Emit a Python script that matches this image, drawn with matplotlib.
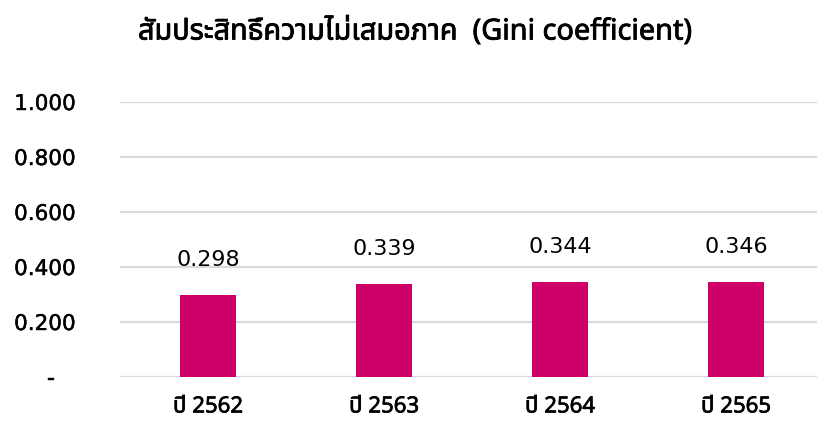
import matplotlib
matplotlib.use("Agg")
import matplotlib.pyplot as plt
from matplotlib import font_manager
from matplotlib.ft2font import FT2Font
import matplotlib.patheffects as pe

# ---- data ----
categories = ["ปี 2562", "ปี 2563", "ปี 2564", "ปี 2565"]
values = [0.298, 0.339, 0.344, 0.346]
value_labels = ["0.298", "0.339", "0.344", "0.346"]
y_ticks = [0.0, 0.2, 0.4, 0.6, 0.8, 1.0]
y_tick_labels = ["-   ", "0.200", "0.400", "0.600", "0.800", "1.000"]
title = "สัมประสิทธิ์ความไม่เสมอภาค  (Gini coefficient)"

# ---- find a font with Thai glyphs ----
thai_family = None
cands = []
for f in font_manager.fontManager.ttflist:
    try:
        cm = FT2Font(f.fname).get_charmap()
        if 0x0E2A in cm and 0x0E34 in cm:
            cands.append(f.name)
    except Exception:
        pass
pref = ["Noto Sans Thai", "Noto Sans Thai UI", "Tlwg Typist", "Loma", "Garuda", "Sarabun"]
for p in pref:
    if p in cands:
        thai_family = p
        break
if thai_family is None and cands:
    thai_family = sorted(set(cands))[0]
fam = [thai_family, "DejaVu Sans"] if thai_family else ["DejaVu Sans"]

W, H = 817, 439
fig = plt.figure(figsize=(W / 100, H / 100), dpi=100)
ax_left, ax_right = 120, 824
ax_bottom, ax_top = 378, 103
ax = fig.add_axes([ax_left / W, (H - ax_bottom) / H, (ax_right - ax_left) / W, (ax_bottom - ax_top) / H])
ax.set_xlim(-0.5, len(categories) - 0.5)
ax.set_ylim(0, 1.0)

xs = list(range(len(categories)))
ax.bar(xs, values, width=0.32, color="#CC0066", zorder=3)
for x, v, lab in zip(xs, values, value_labels):
    ax.annotate(lab, (x, v), xytext=(0, 26), textcoords="offset pixels",
                ha="center", va="bottom", fontsize=16, color="black",
                family="DejaVu Sans")

ax.set_yticks(y_ticks)
ax.set_yticklabels(y_tick_labels, family="DejaVu Sans", fontsize=15.5)
for lbl in ax.get_yticklabels():
    lbl.set_path_effects([pe.withStroke(linewidth=0.3, foreground="black")])
ax.set_xticks(xs)
ax.set_xticklabels(categories, family=fam, fontsize=16, fontweight="bold")
for lbl in ax.get_xticklabels():
    lbl.set_path_effects([pe.withStroke(linewidth=0.5, foreground="black")])
ax.tick_params(axis="y", length=0, pad=32)
ax.tick_params(axis="x", length=0, pad=14)

ax.grid(axis="y", color="#D9D9D9", linewidth=1.6, zorder=0)
for s in ax.spines.values():
    s.set_visible(False)

fig.text(415 / W, 1 - 33 / H, title, ha="center", va="center", family=fam,
         fontsize=20.8, fontweight="bold",
         path_effects=[pe.withStroke(linewidth=0.6, foreground="black")])

fig.savefig("out.png", dpi=100)
